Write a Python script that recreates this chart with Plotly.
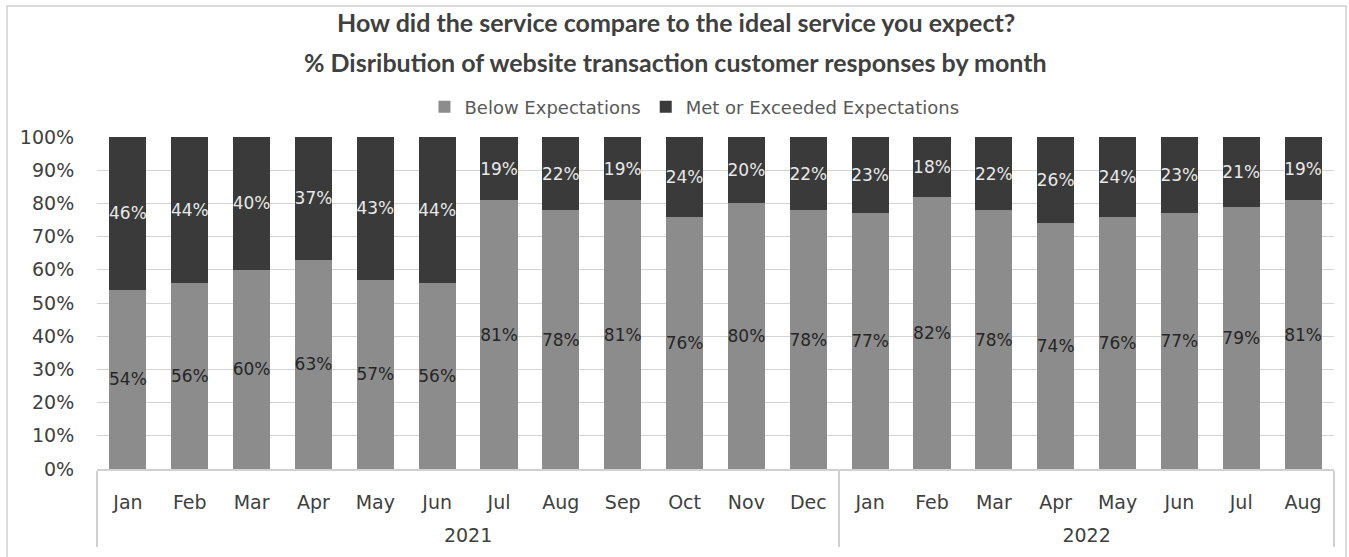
import plotly.graph_objects as go

# Survey months, grouped by year
years = ["2021"] * 12 + ["2022"] * 8
months = ["Jan", "Feb", "Mar", "Apr", "May", "Jun", "Jul", "Aug", "Sep", "Oct", "Nov", "Dec",
          "Jan", "Feb", "Mar", "Apr", "May", "Jun", "Jul", "Aug"]

# Share of responses (%) per month
below = [54, 56, 60, 63, 57, 56, 81, 78, 81, 76, 80, 78, 77, 82, 78, 74, 76, 77, 79, 81]
met = [46, 44, 40, 37, 43, 44, 19, 22, 19, 24, 20, 22, 23, 18, 22, 26, 24, 23, 21, 19]

y_ticks = list(range(0, 101, 10))

FONT = "DejaVu Sans"
TITLE_FONT = "Lato"
TXT = "#404040"
W, H = 1349, 557
L, R, T, B = 97, 15, 137, 88
plot_h = H - T - B


def py(pixel_y):
    """Paper y coordinate for a pixel row measured from the top."""
    return (H - B - pixel_y) / plot_h


def px(pixel_x):
    """Paper x coordinate for a pixel column measured from the left."""
    return (pixel_x - L) / (W - L - R)


# year level gets a blank first line so it sits below the shifted month row
x = [["<br>" + yr for yr in years], months]

fig = go.Figure()
fig.add_trace(go.Bar(
    x=x, y=below, name="Below Expectations",
    text=[f"{v}%" for v in below], texttemplate="%{text}",
    marker=dict(color="#8c8c8c", line=dict(width=0)),
    textposition="inside", insidetextanchor="middle",
    textangle=0, textfont=dict(family=FONT, size=17, color="#262626"),
))
fig.add_trace(go.Bar(
    x=x, y=met, name="Met or Exceeded Expectations",
    text=[f"{v}%" for v in met], texttemplate="%{text}",
    marker=dict(color="#3a3a3a", line=dict(width=0)),
    textposition="inside", insidetextanchor="middle",
    textangle=0, textfont=dict(family=FONT, size=17, color="#e8e8e8"),
))

fig.update_layout(
    width=W, height=H,
    margin=dict(l=L, r=R, t=T, b=B),
    paper_bgcolor="white", plot_bgcolor="white",
    barmode="stack", bargap=0.4,
    uniformtext=dict(minsize=17, mode="show"),
    font=dict(family=FONT, color=TXT),
    showlegend=True,
    legend=dict(orientation="h", x=0.483, xanchor="center", y=py(107), yanchor="middle",
                font=dict(size=18, color="#595959"), itemwidth=30, traceorder="normal"),
    annotations=[
        dict(text="<b>How did the service compare to the ideal service you expect?</b>",
             xref="paper", yref="paper", x=0.468, y=py(22), xanchor="center", yanchor="middle",
             showarrow=False, font=dict(family=TITLE_FONT, size=25, color=TXT)),
        dict(text="<b>% Disribution of website transaction customer responses by month</b>",
             xref="paper", yref="paper", x=0.468, y=py(62), xanchor="center", yanchor="middle",
             showarrow=False, font=dict(family=TITLE_FONT, size=25, color=TXT)),
    ],
    shapes=[
        # chart frame
        dict(type="rect", xref="paper", yref="paper",
             x0=px(7), x1=px(1346), y0=py(600), y1=py(6),
             line=dict(color="#d0d0d0", width=1.5)),
    ],
)

fig.update_yaxes(
    range=[0, 100], tickvals=y_ticks, ticktext=[f"{v}%" for v in y_ticks],
    showgrid=True, gridcolor="#d4d4d4", gridwidth=1, zeroline=False,
    ticks="outside", ticklen=18, tickcolor="rgba(0,0,0,0)",
    tickfont=dict(size=19, color=TXT), fixedrange=True,
)
fig.update_xaxes(
    type="multicategory", showline=True, linecolor="#d0d0d0", linewidth=1.5,
    showdividers=True, dividercolor="#d0d0d0", dividerwidth=1.5,
    ticklabelstandoff=15,
    tickfont=dict(size=19, color=TXT), showgrid=False,
)

fig.write_html("out.html")
